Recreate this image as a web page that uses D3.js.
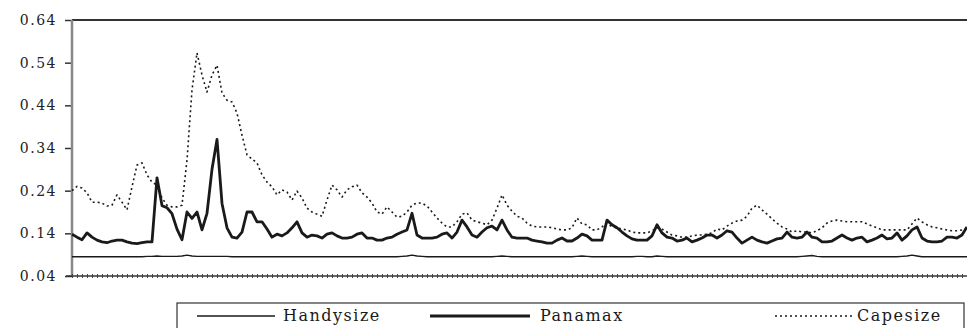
<!DOCTYPE html>
<html>
<head>
<meta charset="utf-8">
<script src="https://cdn.jsdelivr.net/npm/d3@7"></script>
<style>
  html, body { margin: 0; padding: 0; background: #fff; }
  svg { display: block; }
  .tick-label { font-family: "DejaVu Serif", serif; font-size: 14px; fill: #222; letter-spacing: 1.5px; }
  .legend-text { font-family: "DejaVu Serif", serif; font-size: 16px; fill: #1a1a1a; letter-spacing: 1.5px; }
</style>
</head>
<body>
<svg id="chart" width="967" height="328"></svg>
<script>
// y tick labels
const yTicks = [0.04, 0.14, 0.24, 0.34, 0.44, 0.54, 0.64];

const seriesNames = ['Handysize', 'Panamax', 'Capesize'];

// Handysize: almost flat
const handysize = [
  0.085, 0.085, 0.085, 0.085, 0.085, 0.085, 0.085, 0.085, 0.085, 0.085,
  0.085, 0.085, 0.085, 0.085, 0.085, 0.086, 0.086, 0.087, 0.086, 0.086,
  0.086, 0.086, 0.087, 0.089, 0.087, 0.086, 0.086, 0.086, 0.086, 0.086,
  0.086, 0.086, 0.085, 0.085, 0.085, 0.085, 0.085, 0.085, 0.085, 0.085,
  0.085, 0.085, 0.085, 0.085, 0.085, 0.085, 0.085, 0.085, 0.085, 0.085,
  0.085, 0.085, 0.085, 0.085, 0.085, 0.085, 0.085, 0.085, 0.085, 0.085,
  0.085, 0.085, 0.085, 0.085, 0.085, 0.085, 0.086, 0.087, 0.089, 0.087,
  0.086, 0.085, 0.085, 0.085, 0.085, 0.085, 0.085, 0.085, 0.085, 0.085,
  0.085, 0.085, 0.085, 0.085, 0.085, 0.086, 0.087, 0.086, 0.085, 0.085,
  0.085, 0.085, 0.085, 0.085, 0.085, 0.085, 0.085, 0.085, 0.085, 0.085,
  0.085, 0.086, 0.087, 0.086, 0.085, 0.085, 0.085, 0.085, 0.085, 0.085,
  0.085, 0.085, 0.085, 0.086, 0.086, 0.085, 0.085, 0.087, 0.086, 0.085,
  0.085, 0.085, 0.085, 0.085, 0.085, 0.085, 0.085, 0.085, 0.085, 0.085,
  0.085, 0.085, 0.085, 0.085, 0.085, 0.085, 0.085, 0.085, 0.085, 0.085,
  0.085, 0.085, 0.085, 0.085, 0.085, 0.085, 0.086, 0.087, 0.088, 0.086,
  0.085, 0.085, 0.085, 0.085, 0.085, 0.085, 0.085, 0.085, 0.085, 0.085,
  0.085, 0.085, 0.085, 0.085, 0.085, 0.085, 0.086, 0.087, 0.089, 0.087,
  0.085, 0.085, 0.085, 0.085, 0.085, 0.085, 0.085, 0.085, 0.085, 0.085
];

const panamax = [
  0.138, 0.131, 0.125, 0.141, 0.131, 0.124, 0.120, 0.118, 0.122, 0.124,
  0.124, 0.120, 0.117, 0.116, 0.118, 0.120, 0.120, 0.270, 0.205, 0.200,
  0.186, 0.150, 0.125, 0.190, 0.175, 0.190, 0.148, 0.187, 0.290, 0.360,
  0.210, 0.153, 0.131, 0.129, 0.143, 0.190, 0.190, 0.167, 0.167, 0.150,
  0.131, 0.138, 0.134, 0.141, 0.153, 0.167, 0.141, 0.131, 0.136, 0.134,
  0.129, 0.138, 0.141, 0.134, 0.129, 0.129, 0.131, 0.138, 0.141, 0.129,
  0.129, 0.124, 0.124, 0.129, 0.131, 0.138, 0.143, 0.148, 0.187, 0.136,
  0.129, 0.129, 0.129, 0.131, 0.138, 0.141, 0.129, 0.143, 0.171, 0.155,
  0.136, 0.131, 0.143, 0.153, 0.157, 0.148, 0.171, 0.148, 0.131, 0.129,
  0.129, 0.129, 0.124, 0.122, 0.120, 0.117, 0.117, 0.124, 0.129, 0.122,
  0.122, 0.129, 0.138, 0.134, 0.124, 0.124, 0.124, 0.171, 0.160, 0.153,
  0.143, 0.134, 0.127, 0.124, 0.124, 0.124, 0.134, 0.160, 0.141, 0.131,
  0.129, 0.122, 0.124, 0.129, 0.120, 0.124, 0.129, 0.136, 0.136, 0.129,
  0.136, 0.146, 0.143, 0.129, 0.117, 0.124, 0.131, 0.124, 0.120, 0.117,
  0.122, 0.127, 0.129, 0.143, 0.131, 0.129, 0.131, 0.143, 0.131, 0.129,
  0.120, 0.120, 0.122, 0.129, 0.136, 0.129, 0.124, 0.129, 0.131, 0.120,
  0.124, 0.129, 0.136, 0.127, 0.129, 0.141, 0.124, 0.134, 0.148, 0.155,
  0.129, 0.122, 0.120, 0.120, 0.122, 0.131, 0.131, 0.129, 0.136, 0.155
];

const capesize = [
  0.240, 0.250, 0.246, 0.235, 0.213, 0.213, 0.211, 0.204, 0.206, 0.230,
  0.213, 0.195, 0.249, 0.300, 0.305, 0.277, 0.260, 0.253, 0.223, 0.206,
  0.202, 0.202, 0.206, 0.312, 0.476, 0.563, 0.511, 0.471, 0.511, 0.534,
  0.469, 0.452, 0.448, 0.422, 0.370, 0.324, 0.314, 0.305, 0.277, 0.260,
  0.249, 0.230, 0.242, 0.237, 0.218, 0.239, 0.223, 0.199, 0.190, 0.185,
  0.180, 0.218, 0.253, 0.242, 0.225, 0.242, 0.249, 0.253, 0.235, 0.225,
  0.211, 0.190, 0.185, 0.202, 0.190, 0.178, 0.180, 0.190, 0.206, 0.211,
  0.211, 0.204, 0.190, 0.176, 0.164, 0.155, 0.155, 0.167, 0.185, 0.188,
  0.171, 0.167, 0.164, 0.160, 0.171, 0.199, 0.230, 0.206, 0.192, 0.180,
  0.176, 0.164, 0.157, 0.155, 0.155, 0.155, 0.153, 0.150, 0.148, 0.148,
  0.153, 0.176, 0.162, 0.160, 0.148, 0.148, 0.155, 0.164, 0.155, 0.153,
  0.150, 0.148, 0.143, 0.141, 0.141, 0.141, 0.146, 0.153, 0.150, 0.143,
  0.136, 0.134, 0.131, 0.131, 0.134, 0.136, 0.136, 0.138, 0.141, 0.150,
  0.148, 0.157, 0.164, 0.169, 0.171, 0.180, 0.199, 0.206, 0.195, 0.185,
  0.174, 0.164, 0.155, 0.150, 0.143, 0.146, 0.143, 0.143, 0.141, 0.146,
  0.153, 0.164, 0.169, 0.171, 0.169, 0.167, 0.167, 0.167, 0.167, 0.162,
  0.157, 0.153, 0.148, 0.148, 0.148, 0.148, 0.148, 0.148, 0.162, 0.176,
  0.167, 0.160, 0.155, 0.153, 0.150, 0.148, 0.146, 0.146, 0.148, 0.153
];

const margin = { left: 72, right: 0, top: 20, bottom: 52 };
const width = 967;
const height = 328;
const n = panamax.length;

const svg = d3.select('#chart');

const x = d3.scaleLinear()
  .domain([0, n - 1])
  .range([margin.left, width - margin.right]);
const y = d3.scaleLinear()
  .domain([0.04, 0.64])
  .range([height - margin.bottom, margin.top]);

// top frame line
svg.append('line')
  .attr('x1', margin.left).attr('x2', width)
  .attr('y1', y(0.64)).attr('y2', y(0.64))
  .attr('stroke', '#333').attr('stroke-width', 2);

// y axis
const yAxis = d3.axisLeft(y)
  .tickValues(yTicks)
  .tickSize(7)
  .tickPadding(8)
  .tickFormat(d3.format('.2f'));
const gy = svg.append('g')
  .attr('transform', `translate(${margin.left},0)`)
  .call(yAxis);
gy.select('.domain').remove();
gy.selectAll('.tick line').attr('stroke', '#333').attr('stroke-width', 1.5);
gy.selectAll('.tick text').attr('class', 'tick-label').attr('font-family', null).attr('font-size', null);

svg.append('line')
  .attr('x1', margin.left).attr('x2', margin.left)
  .attr('y1', y(0.64)).attr('y2', y(0.04))
  .attr('stroke', '#888').attr('stroke-width', 2.5);

// bottom axis with dense ticks
svg.append('line')
  .attr('x1', margin.left - 6).attr('x2', width)
  .attr('y1', y(0.04)).attr('y2', y(0.04))
  .attr('stroke', '#333').attr('stroke-width', 1.5);
const xAxis = d3.axisBottom(x)
  .tickValues(d3.range(n))
  .tickSize(4)
  .tickFormat('');
const gx = svg.append('g')
  .attr('transform', `translate(0,${y(0.04) - 2})`)
  .call(xAxis);
gx.select('.domain').remove();
gx.selectAll('.tick line').attr('stroke', '#444').attr('stroke-width', 1);

const line = d3.line()
  .x((d, i) => x(i))
  .y(d => y(d));

const styles = {
  Handysize: { width: 1.4, dash: null },
  Panamax: { width: 2.8, dash: null },
  Capesize: { width: 1.6, dash: '2,3' }
};
const seriesData = { Handysize: handysize, Panamax: panamax, Capesize: capesize };

for (const name of seriesNames) {
  svg.append('path')
    .datum(seriesData[name])
    .attr('fill', 'none')
    .attr('stroke', '#1a1a1a')
    .attr('stroke-width', styles[name].width)
    .attr('stroke-linejoin', 'round')
    .attr('stroke-dasharray', styles[name].dash)
    .attr('d', line);
}

// legend
const legend = svg.append('g');
legend.append('rect')
  .attr('x', 177).attr('y', 303)
  .attr('width', 787).attr('height', 40)
  .attr('fill', 'none').attr('stroke', '#333').attr('stroke-width', 1.2);

const legendItems = [
  { name: 'Handysize', x1: 197, x2: 275, tx: 283 },
  { name: 'Panamax', x1: 430, x2: 530, tx: 540 },
  { name: 'Capesize', x1: 775, x2: 852, tx: 857 }
];
for (const item of legendItems) {
  legend.append('line')
    .attr('x1', item.x1).attr('x2', item.x2)
    .attr('y1', 316).attr('y2', 316)
    .attr('stroke', '#1a1a1a')
    .attr('stroke-width', styles[item.name].width)
    .attr('stroke-dasharray', styles[item.name].dash);
  legend.append('text')
    .attr('class', 'legend-text')
    .attr('x', item.tx).attr('y', 321)
    .text(item.name);
}
</script>
</body>
</html>
